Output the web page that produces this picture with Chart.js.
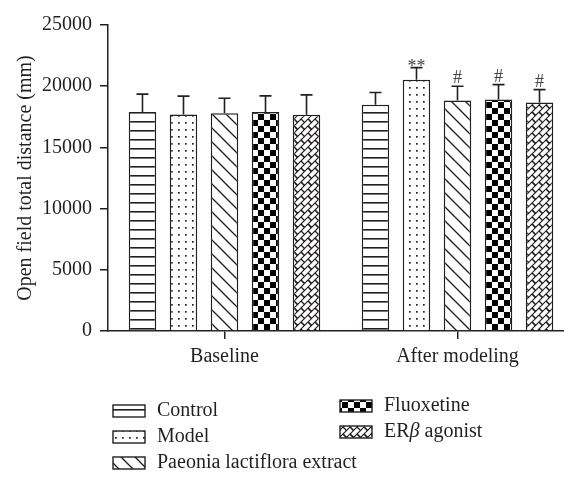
<!DOCTYPE html>
<html>
<head>
<meta charset="utf-8">
<script src="https://cdn.jsdelivr.net/npm/chart.js@4.4.1/dist/chart.umd.min.js"></script>
<style>
  html, body { margin: 0; padding: 0; background: #fff; overflow: hidden; }
  #wrap { position: relative; width: 564px; height: 491px; overflow: hidden; }
</style>
</head>
<body>
<div id="wrap"><canvas id="chart" width="574" height="491"></canvas></div>
<script>
/* ==========================
   DADOS
========================== */
const categories = ["Baseline", "After modeling"];
const groupNames = ["Control", "Model", "Paeonia lactiflora extract", "Fluoxetine", "ERβ agonist"];

const meanControl = [17900, 18480];
const meanModel = [17690, 20520];
const meanPaeonia = [17800, 18830];
const meanFluoxetine = [17900, 18910];
const meanErb = [17660, 18660];

const errControl = [1450, 1000];
const errModel = [1500, 1000];
const errPaeonia = [1220, 1170];
const errFluoxetine = [1310, 1220];
const errErb = [1630, 1060];

const markControl = ["", ""];
const markModel = ["", "**"];
const markPaeonia = ["", "#"];
const markFluoxetine = ["", "#"];
const markErb = ["", "#"];

const yTicks = [0, 5000, 10000, 15000, 20000, 25000];

const FONT = "'Liberation Serif', 'Times New Roman', serif";
const INK = "#231f20";

/* ==========================
   PADRÕES (hachuras)
========================== */
function makeTile(w, h, draw) {
    const c = document.createElement("canvas");
    c.width = w; c.height = h;
    const g = c.getContext("2d");
    g.fillStyle = "#fff";
    g.fillRect(0, 0, w, h);
    draw(g);
    return document.getElementById("chart").getContext("2d").createPattern(c, "repeat");
}

const patHorizontal = makeTile(10, 9, g => {
    g.fillStyle = INK;
    g.fillRect(0, 4, 10, 1.6);
});

const patDots = makeTile(7, 7, g => {
    g.fillStyle = "#222";
    g.fillRect(3, 3, 1.7, 1.7);
});

const patDiagonal = makeTile(14, 14, g => {
    g.strokeStyle = INK;
    g.lineWidth = 1.3;
    for (let k = -14; k <= 14; k += 14) {
        g.beginPath();
        g.moveTo(k - 2, -2);
        g.lineTo(k + 16, 16);
        g.stroke();
    }
});

const patChecker = makeTile(12, 12, g => {
    g.fillStyle = "#000";
    g.fillRect(0, 0, 6, 6);
    g.fillRect(6, 6, 6, 6);
});

// tijolos em diagonal: listras "/" com degraus "\" alternados
const patBrick = makeTile(14, 14, g => {
    g.strokeStyle = INK;
    g.lineWidth = 1.2;
    for (let c = 0; c <= 28; c += 7) {
        g.beginPath();
        g.moveTo(c + 2, -2);
        g.lineTo(c - 16, 16);
        g.stroke();
    }
    [[0, 0], [7, 7], [7, 0], [0, 7], [14, 0], [0, 14], [14, 7], [7, 14]].forEach(([x, y]) => {
        g.beginPath();
        g.moveTo(x, y);
        g.lineTo(x + 3.5, y + 3.5);
        g.stroke();
        g.beginPath();
        g.moveTo(x - 14, y);
        g.lineTo(x - 10.5, y + 3.5);
        g.stroke();
        g.beginPath();
        g.moveTo(x, y - 14);
        g.lineTo(x + 3.5, y - 10.5);
        g.stroke();
    });
});

const groupPatterns = [patHorizontal, patDots, patDiagonal, patChecker, patBrick];

/* ==========================
   PLUGIN - BARRAS DE ERRO E MARCAS
========================== */
const errorBars = {
    id: "errorBars",
    afterDatasetsDraw(chart) {
        const ctx = chart.ctx;
        const y = chart.scales.y;
        ctx.save();
        ctx.strokeStyle = INK;
        ctx.lineWidth = 1.6;
        chart.data.datasets.forEach((ds, di) => {
            const meta = chart.getDatasetMeta(di);
            meta.data.forEach((bar, i) => {
                const top = y.getPixelForValue(ds.data[i] + ds.err[i]);
                ctx.beginPath();
                ctx.moveTo(bar.x, bar.y);
                ctx.lineTo(bar.x, top);
                ctx.moveTo(bar.x - 6, top);
                ctx.lineTo(bar.x + 6, top);
                ctx.stroke();
                if (ds.marks[i]) {
                    ctx.fillStyle = "#444";
                    ctx.font = "18px " + FONT;
                    ctx.textAlign = "center";
                    ctx.textBaseline = "alphabetic";
                    ctx.fillText(ds.marks[i], bar.x, top + (ds.marks[i] === "**" ? 4 : -3));
                }
            });
        });
        ctx.restore();
    }
};

/* ==========================
   PLUGIN - LEGENDA EM DUAS COLUNAS
========================== */
const legendSlots = [
    { x: 113, y: 411 },
    { x: 113, y: 437 },
    { x: 113, y: 463 },
    { x: 340, y: 406 },
    { x: 340, y: 432 }
];

const sideLegend = {
    id: "sideLegend",
    afterDraw(chart) {
        const ctx = chart.ctx;
        ctx.save();
        chart.data.datasets.forEach((ds, i) => {
            const s = legendSlots[i];
            ctx.fillStyle = ds.backgroundColor;
            ctx.fillRect(s.x, s.y - 6, 32, 12);
            ctx.strokeStyle = INK;
            ctx.lineWidth = 1.4;
            ctx.strokeRect(s.x, s.y - 6, 32, 12);

            ctx.fillStyle = INK;
            ctx.textBaseline = "middle";
            ctx.textAlign = "left";
            let tx = s.x + 44;
            const f = "20px " + FONT;
            if (ds.label.includes("β")) {
                const parts = ds.label.split("β");
                ctx.font = f;
                ctx.fillText(parts[0], tx, s.y);
                tx += ctx.measureText(parts[0]).width;
                ctx.font = "italic " + f;
                ctx.fillText("β", tx, s.y);
                tx += ctx.measureText("β").width;
                ctx.font = f;
                ctx.fillText(parts[1], tx, s.y);
            } else {
                ctx.font = f;
                ctx.fillText(ds.label, tx, s.y);
            }
        });
        ctx.restore();
    }
};

/* ==========================
   CHART
========================== */
const means = [meanControl, meanModel, meanPaeonia, meanFluoxetine, meanErb];
const errs = [errControl, errModel, errPaeonia, errFluoxetine, errErb];
const marks = [markControl, markModel, markPaeonia, markFluoxetine, markErb];

new Chart(document.getElementById("chart"), {
    type: "bar",
    data: {
        labels: categories,
        datasets: groupNames.map((name, i) => ({
            label: name,
            data: means[i],
            err: errs[i],
            marks: marks[i],
            backgroundColor: groupPatterns[i],
            borderColor: INK,
            borderWidth: 1.5,
            borderSkipped: "bottom",
            categoryPercentage: 0.88,
            barPercentage: 0.67
        }))
    },
    options: {
        responsive: false,
        animation: false,
        layout: { padding: { top: 25, right: 0, bottom: 116, left: 14 } },
        plugins: {
            legend: { display: false },
            tooltip: { enabled: false }
        },
        scales: {
            x: {
                grid: { display: true, drawOnChartArea: false, offset: false, tickLength: 8, color: INK, lineWidth: 1.5 },
                border: { display: true, color: INK, width: 1.5 },
                ticks: { color: INK, font: { family: FONT, size: 20 }, padding: 6 }
            },
            y: {
                min: 0,
                max: 25000,
                afterBuildTicks: axis => { axis.ticks = yTicks.map(v => ({ value: v })); },
                grid: { display: true, drawOnChartArea: false, tickLength: 8, color: INK, lineWidth: 1.5 },
                border: { display: true, color: INK, width: 1.5 },
                ticks: { color: INK, font: { family: FONT, size: 20 }, padding: 8, callback: v => String(v) },
                title: {
                    display: true,
                    text: "Open field total distance (mm)",
                    color: INK,
                    font: { family: FONT, size: 20 },
                    padding: { top: 0, bottom: -4 }
                }
            }
        }
    },
    plugins: [errorBars, sideLegend]
});
</script>
</body>
</html>
